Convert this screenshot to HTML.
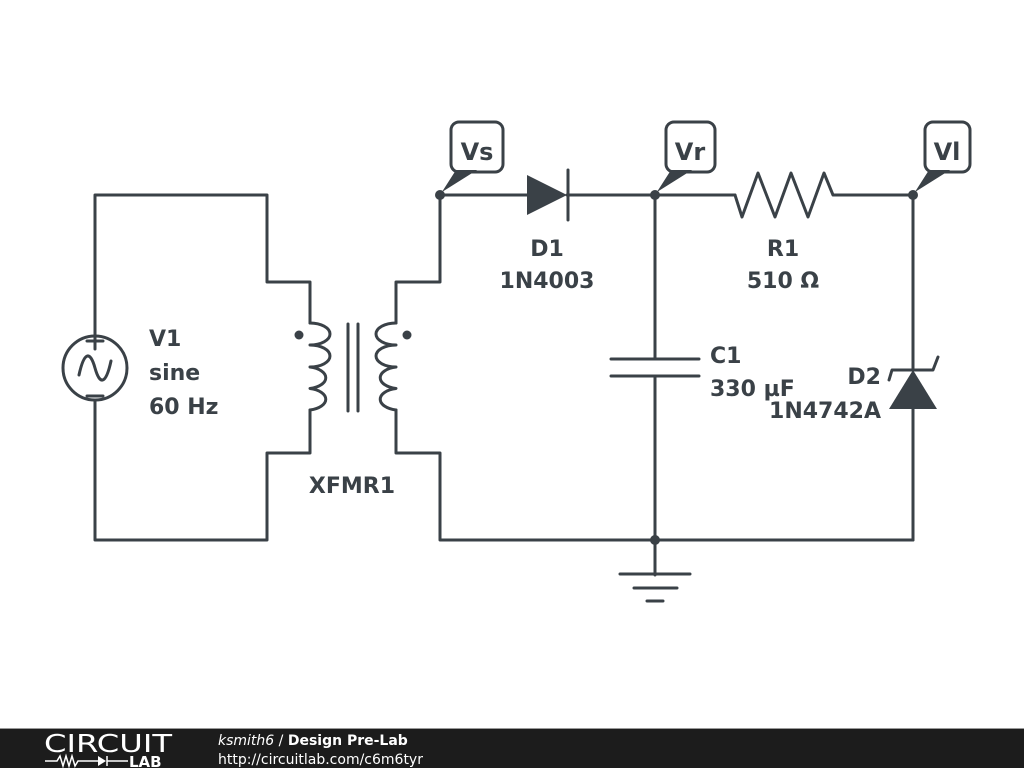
<!DOCTYPE html>
<html><head><meta charset="utf-8"><style>
html,body{margin:0;padding:0;background:#fff;}
svg{display:block;}
text{font-family:"DejaVu Sans","Liberation Sans",sans-serif;}
</style></head><body>
<svg width="1024" height="768" viewBox="0 0 1024 768" xmlns="http://www.w3.org/2000/svg">
<rect width="1024" height="768" fill="#fff"/>
<g stroke="#3a4147" stroke-width="3" fill="none" stroke-linecap="round" stroke-linejoin="round">
<polyline points="95,336 95,195 267,195 267,282 310,282 310,323"/>
<polyline points="95,400 95,540 267,540 267,453 310,453 310,410"/>
<circle cx="95" cy="368" r="32"/>
<line x1="87" y1="341" x2="103" y2="341"/><line x1="95" y1="333" x2="95" y2="349"/>
<line x1="87" y1="396" x2="103" y2="396"/>
<path d="M79,375 C84,352 90,350 95,368 C100,386 106,384 111,361"/>
<path d="M310,323 a20,11 0 0 1 0,22 a20,11 0 0 1 0,22 a20,11 0 0 1 0,21.5 a20,11 0 0 1 0,21.5"/>
<line x1="348" y1="324" x2="348" y2="411"/><line x1="358" y1="324" x2="358" y2="411"/>
<path d="M396,323 a20,11 0 0 0 0,22 a20,11 0 0 0 0,22 a20,11 0 0 0 0,21.5 a20,11 0 0 0 0,21.5"/>
<polyline points="396,323 396,282 440,282 440,195 527,195"/>
<polyline points="396,410 396,453 440,453 440,540 913,540"/>
<line x1="567" y1="195" x2="735" y2="195"/>
<polyline points="735,195 742,217 758,173 775,217 791,173 808,217 824,173 833,195 913,195 913,370"/>
<line x1="568" y1="170" x2="568" y2="220"/>
<line x1="655" y1="195" x2="655" y2="359"/>
<line x1="655" y1="376" x2="655" y2="575"/>
<line x1="611" y1="359" x2="699" y2="359"/>
<line x1="611" y1="376" x2="699" y2="376"/>
<line x1="620" y1="574" x2="690" y2="574"/>
<line x1="634" y1="588" x2="677" y2="588"/>
<line x1="647" y1="601" x2="663" y2="601"/>
<line x1="913" y1="409" x2="913" y2="540"/>
<polyline points="889,380 892,370 933,370 938,357"/>
<rect x="451" y="122" width="52" height="50" rx="8"/>
<rect x="666" y="122" width="49" height="50" rx="8"/>
<rect x="925" y="122" width="45" height="50" rx="8"/>
</g>
<g fill="#3a4147">
<circle cx="299" cy="335" r="4.5"/><circle cx="407" cy="335" r="4.5"/>
<polygon points="527,175 527,215 567,195"/>
<polygon points="913,370 889,409 937,409"/>
<circle cx="440" cy="195" r="5"/><circle cx="655" cy="195" r="5"/><circle cx="913" cy="195" r="5"/><circle cx="655" cy="540" r="5"/>
<polygon points="440,195 456,170 477,170 442,192"/>
<polygon points="655,195 671,170 692,170 657,192"/>
<polygon points="913,195 929,170 950,170 915,192"/>
</g>
<g fill="#3a4147" font-weight="bold" font-size="22">
<text x="477" y="160" text-anchor="middle" font-size="24">Vs</text>
<text x="690" y="160" text-anchor="middle" font-size="24">Vr</text>
<text x="947" y="160" text-anchor="middle" font-size="24">Vl</text>
<text x="547" y="256" text-anchor="middle">D1</text>
<text x="547" y="288" text-anchor="middle">1N4003</text>
<text x="783" y="256" text-anchor="middle">R1</text>
<text x="783" y="288" text-anchor="middle">510 Ω</text>
<text x="710" y="363">C1</text>
<text x="710" y="396">330 µF</text>
<text x="881" y="384" text-anchor="end">D2</text>
<text x="881" y="418" text-anchor="end">1N4742A</text>
<text x="149" y="346">V1</text>
<text x="149" y="380">sine</text>
<text x="149" y="414">60 Hz</text>
<text x="352" y="493" text-anchor="middle">XFMR1</text>
</g>
<rect x="0" y="728" width="1024" height="1" fill="#999"/>
<rect x="0" y="729" width="1024" height="39" fill="#1c1c1c"/>
<text x="44" y="752" fill="#fff" font-size="25" font-weight="normal" textLength="128" lengthAdjust="spacingAndGlyphs">CIRCUIT</text>
<g stroke="#fff" stroke-width="1.5" fill="none">
<polyline points="45,761 57,761 60,756 63,766 66,756 69,766 72,756 75,766 78,761 98,761"/>
<line x1="107" y1="761" x2="128" y2="761"/>
<line x1="107" y1="756" x2="107" y2="766"/>
</g>
<polygon points="98,756 98,766 106,761" fill="#fff"/>
<text x="129" y="767" fill="#fff" font-size="15" font-weight="bold">LAB</text>
<text x="218" y="745" fill="#fff" font-size="14"><tspan font-style="italic">ksmith6</tspan> / <tspan font-weight="bold">Design Pre-Lab</tspan></text>
<text x="218" y="764" fill="#fff" font-size="14">http://circuitlab.com/c6m6tyr</text>
</svg>
</body></html>
